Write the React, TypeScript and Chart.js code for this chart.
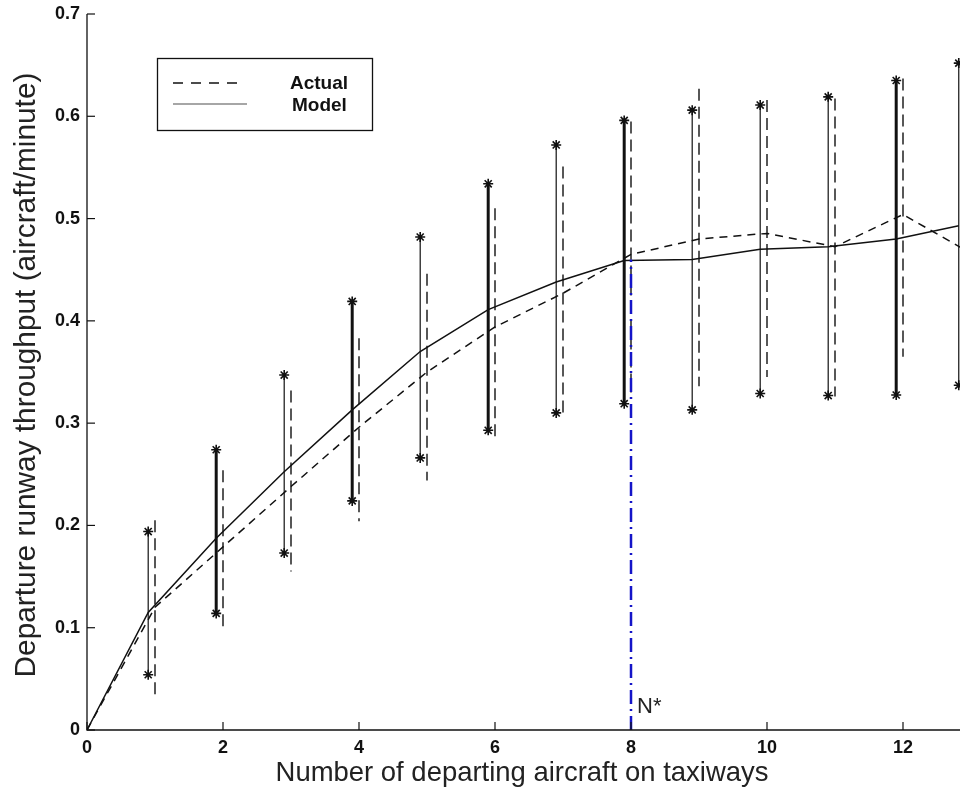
import React, { useEffect, useRef } from "react";
import { Chart, registerables } from "chart.js";

Chart.register(...registerables);

// ---------------- data ----------------
const modelX = [0, 0.9, 1.9, 2.9, 3.9, 4.9, 5.9, 6.9, 7.9, 8.9, 9.9, 10.9, 11.9, 12.82];
const modelY = [0, 0.115, 0.1875, 0.2525, 0.313, 0.37, 0.411, 0.438, 0.459, 0.46, 0.47, 0.4725, 0.48, 0.493];
const modelLow = [null, 0.054, 0.114, 0.173, 0.224, 0.266, 0.293, 0.31, 0.319, 0.313, 0.329, 0.327, 0.3275, 0.337];
const modelHigh = [null, 0.194, 0.274, 0.347, 0.419, 0.482, 0.534, 0.572, 0.596, 0.606, 0.611, 0.619, 0.635, 0.652];

const actualX = [0, 1, 2, 3, 4, 5, 6, 7, 8, 9, 10, 11, 12, 13];
const actualY = [0, 0.12, 0.179, 0.238, 0.296, 0.35, 0.394, 0.427, 0.465, 0.48, 0.4855, 0.4725, 0.504, 0.466];
const actualLow = [null, 0.029, 0.101, 0.155, 0.204, 0.244, 0.282, 0.306, 0.33, 0.336, 0.345, 0.326, 0.365, null];
const actualHigh = [null, 0.205, 0.254, 0.332, 0.383, 0.446, 0.51, 0.551, 0.595, 0.627, 0.616, 0.6175, 0.637, null];

const thickModelBars = [1.9, 3.9, 5.9, 7.9, 11.9];

const xTickValues = [0, 2, 4, 6, 8, 10, 12];
const xTickLabels = ["0", "2", "4", "6", "8", "10", "12"];
const yTickValues = [0, 0.1, 0.2, 0.3, 0.4, 0.5, 0.6, 0.7];
const yTickLabels = ["0", "0.1", "0.2", "0.3", "0.4", "0.5", "0.6", "0.7"];

const nStarX = 8;
const nStarTop = 0.46;
const nStarLabel = "N*";

const legendLabels = ["Actual", "Model"];
const xTitle = "Number of departing aircraft on taxiways";
const yTitle = "Departure runway throughput (aircraft/minute)";

const FONT = '"Liberation Sans", Arial, Helvetica, sans-serif';

function fitFont(ctx: CanvasRenderingContext2D, text: string, target: number, weight = "") {
  ctx.font = `${weight} 20px ${FONT}`;
  const w = ctx.measureText(text).width;
  return (20 * target) / w;
}

const overlay = {
  id: "overlay",
  afterDatasetsDraw(chart: any) {
    const { ctx, chartArea, scales } = chart;
    const xs = scales.x;
    const ys = scales.y;
    ctx.save();

    // error bars - actual (dashed)
    ctx.strokeStyle = "#111";
    ctx.lineWidth = 1.4;
    ctx.setLineDash([12, 6]);
    for (let i = 0; i < actualX.length; i++) {
      if (actualLow[i] == null || actualHigh[i] == null) continue;
      const px = xs.getPixelForValue(actualX[i]);
      ctx.beginPath();
      ctx.moveTo(px, ys.getPixelForValue(actualHigh[i]));
      ctx.lineTo(px, ys.getPixelForValue(actualLow[i]));
      ctx.stroke();
    }
    ctx.setLineDash([]);

    // error bars - model (solid)
    for (let i = 0; i < modelX.length; i++) {
      if (modelLow[i] == null || modelHigh[i] == null) continue;
      const px = xs.getPixelForValue(modelX[i]);
      ctx.lineWidth = thickModelBars.includes(modelX[i]) ? 3 : 1.2;
      ctx.beginPath();
      ctx.moveTo(px, ys.getPixelForValue(modelHigh[i]));
      ctx.lineTo(px, ys.getPixelForValue(modelLow[i]));
      ctx.stroke();
    }

    // N* line
    const nx = xs.getPixelForValue(nStarX);
    ctx.strokeStyle = "#1414c8";
    ctx.lineWidth = 2.5;
    ctx.setLineDash([14, 5, 2, 5]);
    ctx.beginPath();
    ctx.moveTo(nx, ys.getPixelForValue(0));
    ctx.lineTo(nx, ys.getPixelForValue(nStarTop));
    ctx.stroke();
    ctx.setLineDash([]);
    ctx.fillStyle = "#222";
    ctx.font = `22px ${FONT}`;
    ctx.textAlign = "left";
    ctx.textBaseline = "alphabetic";
    ctx.fillText(nStarLabel, nx + 6, 713);

    // axes lines
    ctx.strokeStyle = "#111";
    ctx.lineWidth = 1.3;
    ctx.beginPath();
    ctx.moveTo(chartArea.left, chartArea.top);
    ctx.lineTo(chartArea.left, chartArea.bottom);
    ctx.lineTo(chartArea.right, chartArea.bottom);
    ctx.stroke();

    // ticks (inside)
    ctx.lineWidth = 1.2;
    ctx.fillStyle = "#111";
    ctx.font = `bold 18px ${FONT}`;
    ctx.textAlign = "right";
    ctx.textBaseline = "middle";
    yTickValues.forEach((v, i) => {
      const py = ys.getPixelForValue(v);
      ctx.beginPath();
      ctx.moveTo(chartArea.left, py);
      ctx.lineTo(chartArea.left + 8, py);
      ctx.stroke();
      ctx.fillText(yTickLabels[i], chartArea.left - 7, py);
    });
    ctx.textAlign = "center";
    ctx.textBaseline = "top";
    xTickValues.forEach((v, i) => {
      const px = xs.getPixelForValue(v);
      ctx.beginPath();
      ctx.moveTo(px, chartArea.bottom);
      ctx.lineTo(px, chartArea.bottom - 8);
      ctx.stroke();
      ctx.fillText(xTickLabels[i], px, chartArea.bottom + 9);
    });

    // axis titles
    ctx.fillStyle = "#222";
    const xs2 = fitFont(ctx, xTitle, 493);
    ctx.font = `${xs2}px ${FONT}`;
    ctx.textAlign = "center";
    ctx.textBaseline = "middle";
    ctx.fillText(xTitle, 522, 773);

    const ys2 = fitFont(ctx, yTitle, 605);
    ctx.save();
    ctx.translate(27, 375);
    ctx.rotate(-Math.PI / 2);
    ctx.font = `${ys2}px ${FONT}`;
    ctx.fillText(yTitle, 0, 0);
    ctx.restore();

    // legend
    ctx.fillStyle = "#fff";
    ctx.fillRect(157, 58, 215, 72);
    ctx.strokeStyle = "#111";
    ctx.lineWidth = 1.3;
    ctx.strokeRect(157.5, 58.5, 215, 72);
    ctx.lineWidth = 1.5;
    ctx.setLineDash([10, 8]);
    ctx.beginPath();
    ctx.moveTo(173, 83);
    ctx.lineTo(237, 83);
    ctx.stroke();
    ctx.setLineDash([]);
    ctx.strokeStyle = "#888";
    ctx.beginPath();
    ctx.moveTo(173, 104);
    ctx.lineTo(247, 104);
    ctx.stroke();
    ctx.fillStyle = "#111";
    ctx.font = `bold 19px ${FONT}`;
    ctx.textAlign = "left";
    ctx.textBaseline = "middle";
    ctx.fillText(legendLabels[0], 290, 84);
    ctx.fillText(legendLabels[1], 292, 106);

    ctx.restore();
  },
};

export default function App() {
  const ref = useRef<HTMLCanvasElement | null>(null);

  useEffect(() => {
    if (!ref.current) return;
    const starPts: { x: number; y: number }[] = [];
    modelX.forEach((x, i) => {
      if (modelLow[i] != null) starPts.push({ x, y: modelLow[i] as number });
      if (modelHigh[i] != null) starPts.push({ x, y: modelHigh[i] as number });
    });
    const chart = new Chart(ref.current, {
      type: "scatter",
      data: {
        datasets: [
          {
            label: "Actual",
            data: actualX.map((x, i) => ({ x, y: actualY[i] })),
            showLine: true,
            borderColor: "#111",
            borderWidth: 1.5,
            borderDash: [8, 6],
            pointRadius: 0,
            fill: false,
          },
          {
            label: "Model",
            data: modelX.map((x, i) => ({ x, y: modelY[i] })),
            showLine: true,
            borderColor: "#111",
            borderWidth: 1.5,
            pointRadius: 0,
            fill: false,
          },
          {
            label: "ends",
            data: starPts,
            showLine: false,
            pointStyle: "star",
            pointRadius: 5,
            borderColor: "#111",
            borderWidth: 1.6,
            backgroundColor: "#111",
          },
        ],
      },
      options: {
        responsive: false,
        animation: false,
        devicePixelRatio: 1,
        layout: { padding: { left: 87, top: 14, right: 9, bottom: 59 } },
        plugins: { legend: { display: false }, tooltip: { enabled: false } },
        scales: {
          x: { type: "linear", min: 0, max: 13, display: false },
          y: { type: "linear", min: 0, max: 0.7, display: false },
        },
      },
      plugins: [overlay],
    });
    return () => chart.destroy();
  }, []);

  return (
    <div style={{ position: "fixed", left: 0, top: 0, width: 960, height: 789, overflow: "hidden", background: "#fff" }}>
      <canvas ref={ref} width={980} height={789} style={{ display: "block", width: 980, height: 789 }} />
    </div>
  );
}
